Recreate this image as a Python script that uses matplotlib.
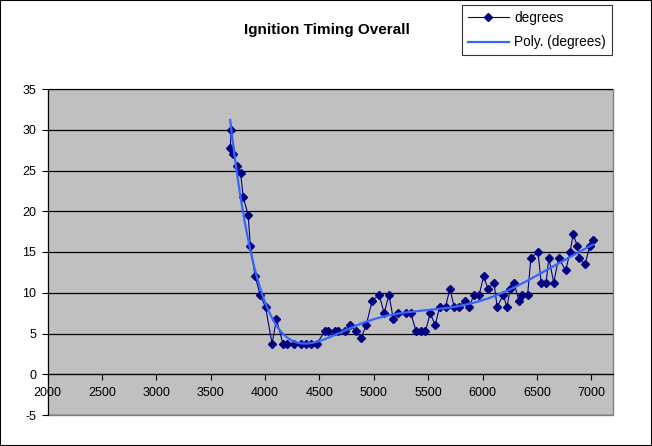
import numpy as np
import matplotlib
matplotlib.use("Agg")
import matplotlib.pyplot as plt
from matplotlib.patches import Rectangle

plt.rcParams['font.family'] = ['Liberation Sans', 'DejaVu Sans']
plt.rcParams['axes.unicode_minus'] = False

# engine speed (rpm) and timing advance
rpm = [3690, 3680, 3710, 3740, 3775, 3800, 3845, 3865, 3910, 3955,
       4005, 4065, 4105, 4165, 4200, 4270, 4330, 4380, 4425, 4475,
       4550, 4575, 4640, 4675, 4735, 4780, 4840, 4885, 4930, 4985,
       5050, 5095, 5140, 5180, 5220, 5295, 5340, 5390, 5430, 5475,
       5520, 5565, 5605, 5660, 5700, 5740, 5780, 5835, 5880, 5920,
       5970, 6010, 6050, 6105, 6135, 6190, 6225, 6255, 6290, 6335,
       6365, 6415, 6445, 6510, 6540, 6585, 6610, 6655, 6700, 6765,
       6805, 6835, 6870, 6890, 6945, 6985, 7015]
degrees = [30.0, 27.75, 27.0, 25.5, 24.75, 21.75, 19.5, 15.75, 12.0, 9.75,
           8.25, 3.75, 6.75, 3.75, 3.75, 3.75, 3.75, 3.75, 3.75, 3.75,
           5.25, 5.25, 5.25, 5.25, 5.25, 6.0, 5.25, 4.5, 6.0, 9.0,
           9.75, 7.5, 9.75, 6.75, 7.5, 7.5, 7.5, 5.25, 5.25, 5.25,
           7.5, 6.0, 8.25, 8.25, 10.5, 8.25, 8.25, 9.0, 8.25, 9.75,
           9.75, 12.0, 10.5, 11.25, 8.25, 9.75, 8.25, 10.5, 11.25, 9.0,
           9.75, 9.75, 14.25, 15.0, 11.25, 11.25, 14.25, 11.25, 14.25, 12.75,
           15.0, 17.25, 15.75, 14.25, 13.5, 15.75, 16.5]

x_ticks = [2000, 2500, 3000, 3500, 4000, 4500, 5000, 5500, 6000, 6500, 7000]
y_ticks = [-5, 0, 5, 10, 15, 20, 25, 30, 35]

# 6th order polynomial trendline like Excel's "Poly."
fit = np.polynomial.Polynomial.fit(rpm, degrees, 6)
xs = np.linspace(min(rpm), max(rpm), 300)

fig = plt.figure(figsize=(6.52, 4.46), dpi=100)
ax = fig.add_axes([47.5 / 652, 1 - 415 / 446, (613 - 47.5) / 652, (415 - 89) / 446])
ax.set_facecolor('#C0C0C0')
ax.patch.set_edgecolor('#808080')
ax.patch.set_linewidth(1)

ax.plot(rpm, degrees, color='#000080', lw=0.8, marker='D', ms=4.4,
        mfc='#000080', mec='#000080', label='degrees', zorder=3)
ax.plot(xs, fit(xs), color='#3366FF', lw=1.6, label='Poly. (degrees)', zorder=4)

ax.set_xlim(2000, 7200)
ax.set_ylim(-5, 35)
ax.set_xticks(x_ticks)
ax.set_yticks(y_ticks)
ax.yaxis.grid(True, color='black', lw=0.9)
ax.set_axisbelow(True)

for s in ['top', 'right']:
    ax.spines[s].set_visible(False)
ax.spines['bottom'].set_position(('data', 0))
ax.spines['bottom'].set_color('black')
ax.spines['left'].set_color('black')
ax.tick_params(axis='both', direction='out', length=4, width=0.8,
               labelsize=9, colors='black')
ax.tick_params(axis='x', pad=5)
ax.tick_params(axis='y', pad=4)

fig.text(327 / 652, 1 - 30 / 446, 'Ignition Timing Overall', ha='center',
         va='center', fontsize=11, fontweight='bold')

leg = fig.legend(loc='upper right', bbox_to_anchor=(612 / 652, 1 - 5 / 446),
                 fontsize=9.8, frameon=True, fancybox=False, borderpad=0.45,
                 handlelength=3.0, labelspacing=0.75, handletextpad=0.4,
                 borderaxespad=0)
leg.get_frame().set_edgecolor('black')
leg.get_frame().set_linewidth(0.8)

fig.patches.append(Rectangle((0, 0), 1, 1, transform=fig.transFigure,
                             fill=False, edgecolor='black', lw=1.5))

fig.savefig('out.png', dpi=100)
